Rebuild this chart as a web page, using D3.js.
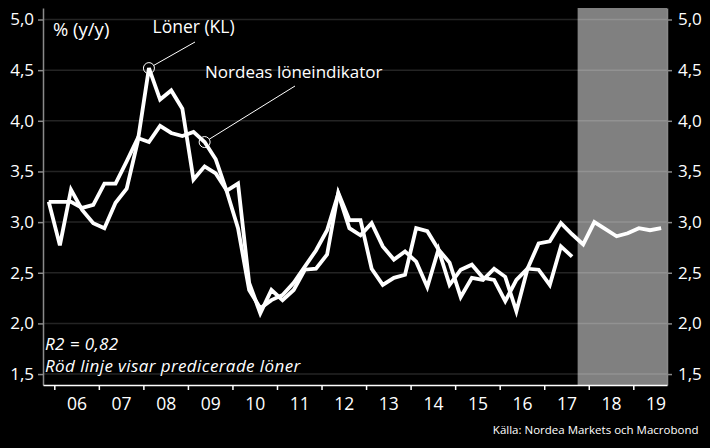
<!DOCTYPE html>
<html><head><meta charset="utf-8">
<script src="https://cdn.jsdelivr.net/npm/d3@7"></script>
<style>
html,body{margin:0;padding:0;background:#000;}
svg{display:block;}
text{font-family:"Open Sans",sans-serif;fill:#fff;}
</style></head><body>
<svg id="chart" width="710" height="448"></svg>
<script>
const quarters = ["2005Q4",
 "2006Q1","2006Q2","2006Q3","2006Q4","2007Q1","2007Q2","2007Q3","2007Q4",
 "2008Q1","2008Q2","2008Q3","2008Q4","2009Q1","2009Q2","2009Q3","2009Q4",
 "2010Q1","2010Q2","2010Q3","2010Q4","2011Q1","2011Q2","2011Q3","2011Q4",
 "2012Q1","2012Q2","2012Q3","2012Q4","2013Q1","2013Q2","2013Q3","2013Q4",
 "2014Q1","2014Q2","2014Q3","2014Q4","2015Q1","2015Q2","2015Q3","2015Q4",
 "2016Q1","2016Q2","2016Q3","2016Q4","2017Q1","2017Q2","2017Q3","2017Q4",
 "2018Q1","2018Q2","2018Q3","2018Q4","2019Q1","2019Q2","2019Q3"];
// Löner (KL)
const loner = [3.20,2.77,3.32,3.12,2.99,2.94,3.19,3.33,3.80,4.52,4.21,4.30,4.12,3.42,3.55,3.48,
 3.31,3.38,2.40,2.10,2.33,2.23,2.33,2.53,2.54,2.68,3.29,3.02,3.02,2.54,2.38,2.45,
 2.48,2.94,2.91,2.73,2.60,2.26,2.45,2.43,2.54,2.46,2.12,2.54,2.53,2.38,2.76,2.66];
// Nordeas löneindikator
const nordea = [3.20,3.20,3.20,3.14,3.17,3.38,3.38,3.60,3.83,3.79,3.95,3.88,3.85,3.89,3.79,3.62,
 3.30,2.94,2.33,2.15,2.23,2.28,2.40,2.56,2.72,2.92,3.28,2.94,2.87,2.99,2.76,2.63,
 2.71,2.61,2.36,2.73,2.38,2.53,2.58,2.45,2.43,2.22,2.43,2.54,2.79,2.81,2.99,2.88,
 2.78,3.00,2.93,2.86,2.89,2.94,2.92,2.94];
const yTicks = [1.5,2.0,2.5,3.0,3.5,4.0,4.5,5.0];
const yearTicks = [2006,2007,2008,2009,2010,2011,2012,2013,2014,2015,2016,2017,2018,2019];
const yearLabels = ["06","07","08","09","10","11","12","13","14","15","16","17","18","19"];
const forecastStart = "2017Q4";
const lonerLabelQuarter = "2008Q1";
const nordeaLabelQuarter = "2009Q2";

const qStart = q => +q.slice(0,4) + (+q.slice(5)-1)*0.25;
const qMid = q => qStart(q) + 0.125;

const svg = d3.select("#chart");
const L = 43, R = 667, T = 8, B = 385;
const x = d3.scaleLinear().domain([2005.7463, 2019.7567]).range([L, R]);
const y = d3.scaleLinear().domain([1.392, 5.1135]).range([B, T]);

// forecast band
svg.append("rect").attr("x", x(qStart(forecastStart))).attr("y", T)
  .attr("width", R - x(qStart(forecastStart))).attr("height", B - T)
  .attr("fill", "#808080");

// gridlines
svg.append("g").selectAll("line").data(yTicks).join("line")
  .attr("x1", L).attr("x2", R).attr("y1", d => y(d)).attr("y2", d => y(d))
  .attr("stroke", "#fff").attr("stroke-opacity", 0.14).attr("stroke-width", 1.5);

const fmt = d => d3.format(".1f")(d).replace(".", ",");

const gl = svg.append("g").attr("transform", `translate(${L},0)`)
  .call(d3.axisLeft(y).tickValues(yTicks).tickFormat(fmt).tickSize(5).tickPadding(4).tickSizeOuter(0));
const gr = svg.append("g").attr("transform", `translate(${R},0)`)
  .call(d3.axisRight(y).tickValues(yTicks).tickFormat(fmt).tickSize(5).tickPadding(6).tickSizeOuter(0));
[gl, gr].forEach(g => {
  g.select(".domain").attr("stroke", "#8a8a8a").attr("stroke-width", 1.5);
  g.selectAll(".tick line").attr("stroke", "#8a8a8a").attr("stroke-width", 1.5);
  g.selectAll("text").attr("font-size", 17).attr("font-family", "Open Sans").attr("fill", "#fff");
});

const gb = svg.append("g").attr("transform", `translate(0,${B})`)
  .call(d3.axisBottom(x).tickValues(yearTicks).tickFormat("").tickSize(5).tickSizeOuter(0));
gb.select(".domain").attr("stroke", "#fff").attr("stroke-width", 1.5);
gb.selectAll(".tick line").attr("stroke", "#fff").attr("stroke-width", 1.5);

const gbl = svg.append("g").attr("transform", `translate(0,${B})`)
  .call(d3.axisBottom(x).tickValues(yearTicks.map(d => d + 0.5))
    .tickFormat((d, i) => yearLabels[i]).tickSize(0).tickPadding(13));
gbl.select(".domain").remove();
gbl.selectAll("text").attr("font-size", 17.5).attr("font-family", "Open Sans").attr("fill", "#fff");

// lines
const line = d3.line().x((d, i) => x(qMid(quarters[i]))).y(d => y(d));
[loner, nordea].forEach(s => {
  svg.append("path").datum(s).attr("d", line)
    .attr("fill", "none").attr("stroke", "#fff").attr("stroke-width", 3.8)
    .attr("stroke-linejoin", "miter");
});

// annotations
function annotate(q, series, endX, endY) {
  const i = quarters.indexOf(q);
  const cx = x(qMid(q)), cy = y(series[i]), r = 5.5;
  svg.append("circle").attr("cx", cx).attr("cy", cy).attr("r", r)
    .attr("fill", "none").attr("stroke", "#fff").attr("stroke-width", 1);
  const dx = endX - cx, dy = endY - cy, len = Math.hypot(dx, dy);
  svg.append("line").attr("x1", cx + dx / len * r).attr("y1", cy + dy / len * r)
    .attr("x2", endX).attr("y2", endY).attr("stroke", "#fff").attr("stroke-width", 1);
}
annotate(lonerLabelQuarter, loner, 195, 42);
annotate(nordeaLabelQuarter, nordea, 295, 86);

svg.append("text").attr("x", 152.5).attr("y", 32.5).attr("font-size", 17.5).text("Löner (KL)");
svg.append("text").attr("x", 205).attr("y", 78.3).attr("font-size", 17).text("Nordeas löneindikator");
svg.append("text").attr("x", 53).attr("y", 36).attr("font-size", 18.5).text("% (y/y)");
svg.append("text").attr("x", 45).attr("y", 350).attr("font-size", 17).attr("letter-spacing", 0.4)
  .attr("font-style", "italic").text("R2 = 0,82");
svg.append("text").attr("x", 45).attr("y", 372).attr("font-size", 17).attr("letter-spacing", 0.4)
  .attr("font-style", "italic").text("Röd linje visar predicerade löner");
svg.append("text").attr("x", 698.5).attr("y", 434).attr("font-size", 11.5).attr("text-anchor", "end")
  .text("Källa: Nordea Markets och Macrobond");
</script>
</body></html>
